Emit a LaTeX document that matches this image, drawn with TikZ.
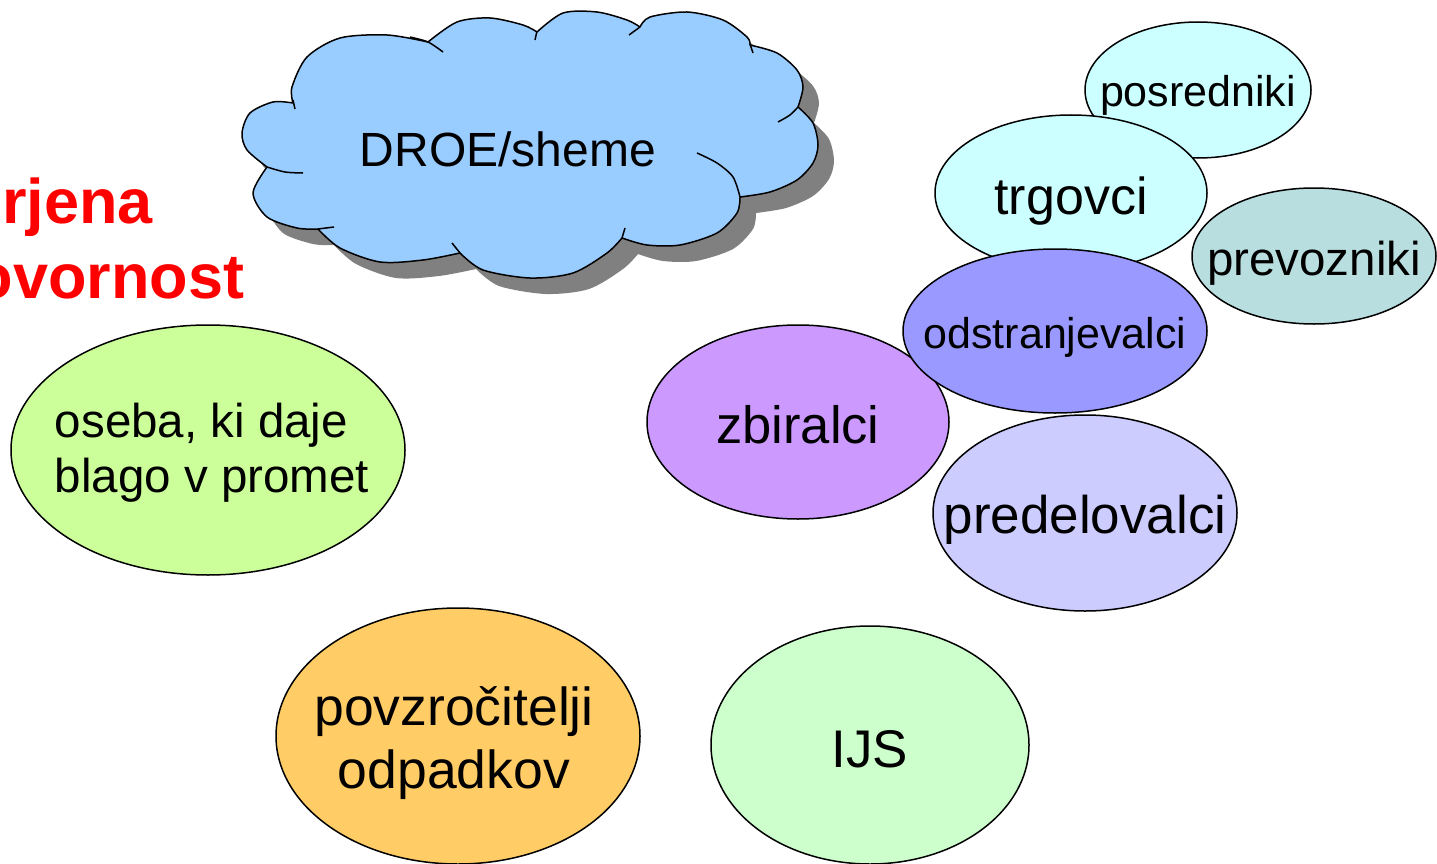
\documentclass[tikz,border=0pt]{standalone}
\usepackage{fontspec}
\setmainfont{Liberation Sans}
\usetikzlibrary{shapes.geometric}
\definecolor{cloudblue}{HTML}{99CCFF}
\definecolor{shadowgray}{HTML}{808080}
\definecolor{cyanl}{HTML}{CCFFFF}
\definecolor{turq}{HTML}{B8DEE0}
\definecolor{odstc}{HTML}{9999FF}
\definecolor{zbirc}{HTML}{CC99FF}
\definecolor{predc}{HTML}{CCCCFF}
\definecolor{osebac}{HTML}{CCFF99}
\definecolor{povzc}{HTML}{FFCC66}
\definecolor{ijsc}{HTML}{CCFFCC}
\definecolor{redtxt}{HTML}{FF0000}
\newcommand\ctxt[2]{\smash{\raisebox{#1}{\makebox[0pt]{#2}}}}
\newcommand\cloudpath{%
plot[smooth] coordinates {(293,103) (292,87) (307,57) (340,38) (387,35) (428,42)}
-- plot[smooth] coordinates {(428,42) (457,22) (490,18) (523,25) (537,32)}
-- plot[smooth] coordinates {(537,32) (563,13) (597,12) (627,20) (640,27)}
-- plot[smooth] coordinates {(640,27) (650,17) (687,12) (723,20) (747,37) (750,45)}
-- plot[smooth] coordinates {(750,45) (777,53) (797,70) (803,87) (798,107)}
-- plot[smooth] coordinates {(798,107) (813,123) (818,145) (813,163) (797,180) (770,192) (740,197)}
-- plot[smooth] coordinates {(740,197) (737,213) (717,233) (680,245) (647,245) (622,238)}
-- plot[smooth] coordinates {(622,238) (607,253) (573,273) (530,278) (483,270) (460,253)}
-- plot[smooth] coordinates {(460,253) (423,260) (380,262) (340,248) (318,229)}
-- plot[smooth] coordinates {(318,229) (297,228) (267,217) (253,193) (267,167)}
-- plot[smooth] coordinates {(267,167) (247,150) (242,133) (250,113) (273,102) (293,103)}
-- cycle}
\begin{document}
\begin{tikzpicture}[x=1pt,y=-1pt,
  ell/.style={ellipse, draw=black, line width=1.5pt, inner sep=0pt, outer sep=0pt},
  cloudline/.style={draw=black, line width=1.5pt, line join=round},
  redlab/.style={inner sep=0pt, text=redtxt, font=\fontsize{63}{75}\selectfont\bfseries}]
\useasboundingbox (0,0) rectangle (1437,864);
\clip (0,0) rectangle (1437,864);
\fill[white] (0,0) rectangle (1437,864);
% cloud
\begin{scope}[shift={(16,16)}]
  \fill[shadowgray] \cloudpath;
\end{scope}
\path[fill=cloudblue, cloudline] \cloudpath;
\draw[cloudline] (293,100) -- (295,109);
\draw[cloudline] plot[smooth] coordinates {(410,37) (428,42) (443,52)};
\draw[cloudline] (537,31) -- (535,40);
\draw[cloudline] (640,27) -- (629,35);
\draw[cloudline] (750,44) -- (753,53);
\draw[cloudline] plot[smooth] coordinates {(798,107) (790,115) (778,122)};
\draw[cloudline] plot[smooth] coordinates {(740,197) (733,177) (717,163) (697,153)};
\draw[cloudline] (622,238) -- (625,228);
\draw[cloudline] (460,253) -- (452,243);
\draw[cloudline] (318,229) -- (334,227);
\draw[cloudline] plot[smooth] coordinates {(267,167) (285,172) (303,173)};
\node[inner sep=0pt, anchor=base, font=\fontsize{48}{56}\selectfont] (droe) at (508,166) {DROE/sheme};
% red title fragments
\node[redlab, anchor=base east] (r1) at (153,223) {rjena};
\node[redlab, anchor=base east] (r2) at (244.5,298) {ovornost};
% ellipses
\node[ell, fill=osebac, minimum width=394pt, minimum height=250pt, font=\fontsize{47.5}{55}\selectfont] (oseba) at (208,450)
  {\ctxt{13pt}{\hspace*{8pt}\begin{tabular}[t]{@{}l@{}}oseba, ki daje\\blago v promet\end{tabular}}};
\node[ell, fill=povzc, minimum width=364pt, minimum height=256pt, font=\fontsize{53.5}{63}\selectfont] (povz) at (458,736)
  {\ctxt{11pt}{\hspace*{-8pt}\begin{tabular}[t]{@{}c@{}}povzročitelji\\odpadkov\end{tabular}}};
\node[ell, fill=ijsc, minimum width=318pt, minimum height=238pt, font=\fontsize{53}{63}\selectfont] (ijs) at (870,745)
  {\ctxt{-22pt}{IJS}};
\node[ell, fill=cyanl, minimum width=226pt, minimum height=136pt, font=\fontsize{43}{50}\selectfont] (posr) at (1198,90)
  {\ctxt{-17pt}{posredniki}};
\node[ell, fill=cyanl, minimum width=272pt, minimum height=156pt, font=\fontsize{52}{62}\selectfont] (trg) at (1071,193)
  {\ctxt{-21pt}{trgovci}};
\node[ell, fill=turq, minimum width=244pt, minimum height=136pt, font=\fontsize{47.5}{56}\selectfont] (prev) at (1314,256)
  {\ctxt{-19pt}{prevozniki}};
\node[ell, fill=zbirc, minimum width=302pt, minimum height=194pt, font=\fontsize{52.5}{62}\selectfont] (zbir) at (798,422)
  {\ctxt{-21pt}{zbiralci}};
\node[ell, fill=odstc, minimum width=304pt, minimum height=164pt, font=\fontsize{43}{50}\selectfont] (odst) at (1055,331)
  {\ctxt{-17pt}{odstranjevalci}};
\node[ell, fill=predc, minimum width=304pt, minimum height=196pt, font=\fontsize{53}{63}\selectfont] (pred) at (1085,513)
  {\ctxt{-20pt}{predelovalci}};
\end{tikzpicture}
\end{document}
